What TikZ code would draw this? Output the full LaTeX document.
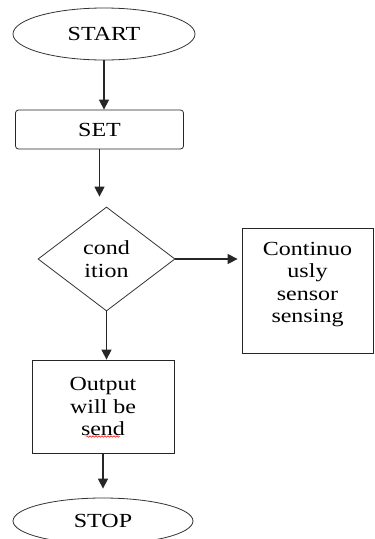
\documentclass[tikz,border=0pt]{standalone}
\usepackage{fontspec}
\setmainfont{Liberation Serif}[FakeStretch=1.2]
\usetikzlibrary{arrows.meta,shapes.geometric,calc,decorations.pathmorphing}

\begin{document}
\begin{tikzpicture}[x=1pt,y=-1pt,
    every node/.style={font=\fontsize{20}{22.5}\selectfont,align=center,inner sep=0pt},
    term/.style={ellipse,draw=black!80,line width=0.8pt,minimum width=182pt,minimum height=52pt},
    box/.style={rectangle,draw=black!85,line width=0.8pt},
    arr/.style={-{Triangle[length=10pt,width=10pt]},line width=1.3pt,black!85}]
    \useasboundingbox (0,0) rectangle (375,539);
    \node[term] (start) at (104,34) {START};
    \node[box,rounded corners=3pt,minimum width=168pt,minimum height=39pt] (set) at (99.5,129.5) {SET};
    \node[diamond,draw=black!80,line width=0.8pt,minimum width=137pt,minimum height=104pt] (cond) at (106.5,259) {cond\\ition};
    \node[box,minimum width=131pt,minimum height=125pt] (sense) at (307.5,290.5)
      {\parbox[c][113pt][t]{120pt}{\centering\vspace*{8pt}Continuo\\usly\\sensor\\sensing}};
    \node[box,minimum width=142pt,minimum height=93pt] (out) at (103,406.5) {Output\\will be\\send};
    \node[term,minimum width=180pt,minimum height=46pt] (stop) at (103,521) {STOP};
    % connectors
    \foreach \a/\b/\s in {start/set/0,set/cond/10,cond/out/0,out/stop/9}
      \draw[arr,shorten >=\s pt] (\a.south) -- (\a.south |- \b.north);
    \draw[arr,shorten >=4pt] (cond.east) -- (cond.east -| sense.west);
    \draw[red,line width=0.5pt,decorate,decoration={snake,amplitude=0.8pt,segment length=3pt}]
      ($(out.center)+(-17,30)$) -- ++(34,0);
\end{tikzpicture}
\end{document}
